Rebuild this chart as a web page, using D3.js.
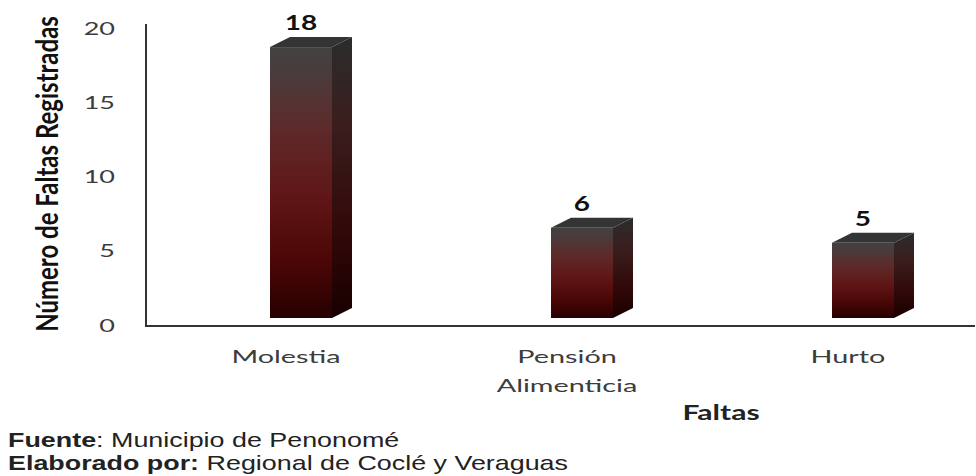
<!DOCTYPE html>
<html lang="es">
  <head>
    <meta charset="utf-8" />
    <script src="https://d3js.org/d3.v7.min.js" charset="utf-8"></script>
  </head>

  <style>
    body {
      margin: 0;
      background: #fff;
    }
    .axis-label {
      font-family: 'Lato', 'Open Sans', sans-serif;
      fill: #3c3c3c;
    }
    .bold {
      font-weight: bold;
    }
    .footer {
      font-family: 'Liberation Sans', Arial, sans-serif;
      fill: #222;
    }
  </style>

  <body>
    <div id="plot-container"></div>

    <script type="text/javascript">
      // data //---------------------------------------------------------
      var categories = ['Molestia', 'Pensión Alimenticia', 'Hurto'];
      var category_lines = [['Molestia'], ['Pensión', 'Alimenticia'], ['Hurto']];
      var values = [18, 6, 5];
      var y_ticks = [0, 5, 10, 15, 20];

      var y_title = 'Número de Faltas Registradas';
      var x_title = 'Faltas';
      var footer_lines = [
        ['Fuente', ': Municipio de Penonomé'],
        ['Elaborado por:', ' Regional de Coclé y Veraguas'],
      ];

      // constants //----------------------------------------------------
      var container_dimensions = { width: 976, height: 476 };
      var axis_left = 146,
        axis_top = 24,
        axis_bottom = 326,
        axis_right = 975;

      // bars sit on a slightly lower "floor" than the axis (3d look)
      var bar_floor = 318;
      var bar_width = 62;
      var depth = { dx: 20, dy: 10 };

      // scales //-------------------------------------------------------
      var scale_x = d3.scalePoint().domain(categories).range([301, 863]);

      // value axis labels
      var scale_y_axis = d3.scaleLinear().domain([0, 20]).range([325, 28]);

      // front face of the bars
      var scale_y_bar = d3.scaleLinear().domain([0, 20]).range([bar_floor, 17]);

      // svg //----------------------------------------------------------
      var svg = d3
        .select('#plot-container')
        .append('svg')
        .attr('width', container_dimensions.width)
        .attr('height', container_dimensions.height);

      var defs = svg.append('defs');

      function AddGradient(id, stops) {
        var g = defs
          .append('linearGradient')
          .attr('id', id)
          .attr('x1', 0)
          .attr('y1', 0)
          .attr('x2', 0)
          .attr('y2', 1);
        g.selectAll('stop')
          .data(stops)
          .join('stop')
          .attr('offset', (d) => d[0])
          .attr('stop-color', (d) => d[1]);
      }

      AddGradient('front-grad', [
        [0, '#424242'],
        [0.12, '#4c3a3a'],
        [0.3, '#5e2a2a'],
        [0.55, '#601616'],
        [0.8, '#4a0606'],
        [1, '#260000'],
      ]);
      AddGradient('side-grad', [
        [0, '#2c2c2c'],
        [0.3, '#3a1e1e'],
        [0.7, '#320808'],
        [1, '#180000'],
      ]);

      // bars //---------------------------------------------------------
      function DrawBars() {
        var bars = svg
          .append('g')
          .attr('class', 'bars')
          .selectAll('g')
          .data(categories)
          .join('g');

        bars.each(function (c, i) {
          var g = d3.select(this);
          var x0 = scale_x(c) - bar_width / 2,
            x1 = scale_x(c) + bar_width / 2,
            y0 = scale_y_bar(values[i]),
            y1 = bar_floor;

          // side face
          g.append('polygon')
            .attr(
              'points',
              [
                [x1, y0],
                [x1 + depth.dx, y0 - depth.dy],
                [x1 + depth.dx, y1 - depth.dy],
                [x1, y1],
              ].join(' ')
            )
            .attr('fill', 'url(#side-grad)');

          // top face
          g.append('polygon')
            .attr(
              'points',
              [
                [x0, y0],
                [x0 + depth.dx, y0 - depth.dy],
                [x1 + depth.dx, y0 - depth.dy],
                [x1, y0],
              ].join(' ')
            )
            .attr('fill', '#343434');

          // front face
          g.append('rect')
            .attr('x', x0)
            .attr('y', y0)
            .attr('width', bar_width)
            .attr('height', y1 - y0)
            .attr('fill', 'url(#front-grad)');

          // value label
          g.append('text')
            .attr('class', 'axis-label bold')
            .attr(
              'transform',
              'translate(' + scale_x(c) + ',' + (y0 - depth.dy - 7) + ') scale(1.4,1)'
            )
            .attr('text-anchor', 'middle')
            .style('font-size', '20px')
            .style('fill', '#111')
            .text(values[i]);
        });
      }

      // axes //---------------------------------------------------------
      function DrawAxes() {
        svg
          .append('path')
          .attr(
            'd',
            'M' + axis_left + ',' + axis_top + 'V' + axis_bottom + 'H' + axis_right
          )
          .attr('fill', 'none')
          .attr('stroke', '#333')
          .attr('stroke-width', 2);

        // y tick labels
        svg
          .append('g')
          .selectAll('text')
          .data(y_ticks)
          .join('text')
          .attr('class', 'axis-label')
          .attr('transform', (d) => 'translate(115,' + (scale_y_axis(d) + 6.5) + ') scale(1.5,1)')
          .attr('text-anchor', 'end')
          .style('font-size', '18px')
          .text((d) => d);

        // category labels
        var cat = svg
          .append('g')
          .selectAll('text')
          .data(categories)
          .join('text')
          .attr('class', 'axis-label')
          .attr('transform', (d) => 'translate(' + (scale_x(d) - 15) + ',363) scale(1.6,1)')
          .attr('text-anchor', 'middle')
          .style('font-size', '18px');

        cat
          .selectAll('tspan')
          .data((d, i) => category_lines[i])
          .join('tspan')
          .attr('x', 0)
          .attr('dy', (d, i) => (i === 0 ? 0 : 29))
          .text((d) => d);

        // y title
        svg
          .append('text')
          .attr('class', 'axis-label bold')
          .attr('transform', 'translate(58,174) scale(1.3,1) rotate(-90)')
          .attr('text-anchor', 'middle')
          .style('font-size', '24px')
          .style('fill', '#111')
          .text(y_title);

        // x title
        svg
          .append('text')
          .attr('class', 'axis-label bold')
          .attr('transform', 'translate(721,420) scale(1.5,1)')
          .attr('text-anchor', 'middle')
          .style('font-size', '20px')
          .style('fill', '#222')
          .text(x_title);
      }

      // footer //-------------------------------------------------------
      function DrawFooter() {
        var foot = svg
          .append('g')
          .selectAll('text')
          .data(footer_lines)
          .join('text')
          .attr('class', 'footer')
          .attr('transform', (d, i) => 'translate(8,' + (447 + i * 23) + ') scale(1.28,1)')
          .style('font-size', '21px');

        foot
          .selectAll('tspan')
          .data((d) => d)
          .join('tspan')
          .style('font-weight', (d, i) => (i === 0 ? 'bold' : 'normal'))
          .text((d) => d);
      }

      DrawBars();
      DrawAxes();
      DrawFooter();
    </script>
  </body>
</html>
